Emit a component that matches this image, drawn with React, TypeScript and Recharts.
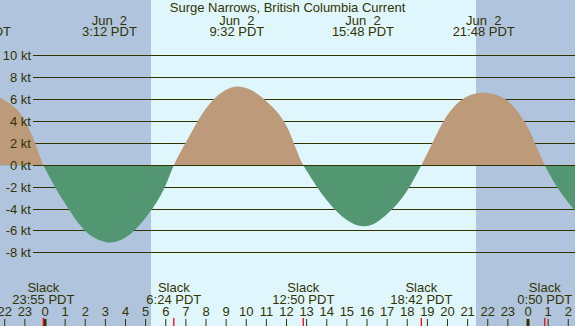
import React from "react";
import {
  ComposedChart,
  Area,
  XAxis,
  YAxis,
  CartesianGrid,
  ReferenceLine,
  Customized,
} from "recharts";

const title = "Surge Narrows, British Columbia Current";

// hours since midnight Jun 2 (PDT) and current speed in knots (+ flood / - ebb)
const times = [
  -2.5, -2, -1, -0.5, -0.083, 0, 0.5, 1, 2, 3, 3.2, 4, 5, 6, 6.4, 7, 8, 9, 9.533, 10, 11, 12,
  12.833, 13, 14, 15, 15.8, 16, 17, 18, 18.7, 19, 20, 21, 21.8, 22, 23, 24, 24.833, 25, 26, 26.5,
];
const speeds = [
  6.4, 5.95, 4.1, 2.1, 0, -0.3, -2.0, -3.5, -6.0, -7.0, -7.06, -6.6, -4.8, -1.8, 0, 2.1, 5.2, 6.9,
  7.2, 7.05, 5.85, 3.6, 0, -0.5, -3.2, -5.0, -5.57, -5.55, -4.45, -2.3, 0, 1.1, 4.6, 6.3, 6.64, 6.6,
  5.85, 3.4, 0, -0.6, -3.4, -4.5,
];

const slackTimes = [-0.083, 6.4, 12.833, 18.7, 24.833];
const slackLabels = ["23:55 PDT", "6:24 PDT", "12:50 PDT", "18:42 PDT", "0:50 PDT"];

const maxTimes = [-3.23, 3.2, 9.533, 15.8, 21.8];
const maxDates = ["Jun  1", "Jun  2", "Jun  2", "Jun  2", "Jun  2"];
const maxLabels = ["20:46 PDT", "3:12 PDT", "9:32 PDT", "15:48 PDT", "21:48 PDT"];

const hourTicks = [
  -2, -1, 0, 1, 2, 3, 4, 5, 6, 7, 8, 9, 10, 11, 12, 13, 14, 15, 16, 17, 18, 19, 20, 21, 22, 23, 24,
  25, 26,
];
const speedTicks = [-8, -6, -4, -2, 0, 2, 4, 6, 8, 10];

const sunrise = 5.27;
const sunset = 21.42;
const startHour = -2.236;
const endHour = 26.335;

const ink = "#333300";
const night = "#b0c4de";
const day = "#dff6fd";
const flood = "#bc9a7a";
const ebb = "#529672";
const font = "'Liberation Sans', Arial, sans-serif";

const data = times.map((t, i) => ({ t, v: speeds[i] }));
const vMax = Math.max(...speeds);
const vMin = Math.min(...speeds);
const splitAt = vMax / (vMax - vMin);

const HourTick = ({ x, payload }: any) => {
  const h = ((payload.value % 24) + 24) % 24;
  return (
    <g>
      <text x={x} y={316} textAnchor="middle" fill={ink} fontSize={13} fontFamily={font}>
        {h}
      </text>
      <line x1={x} x2={x} y1={319} y2={326} stroke={ink} strokeWidth={h === 0 ? 3 : 1} />
    </g>
  );
};

const SlackTick = ({ x, payload }: any) => {
  const i = slackTimes.indexOf(payload.value);
  return (
    <g fill={ink} fontSize={13} fontFamily={font}>
      <text x={x} y={292} textAnchor="middle">Slack</text>
      <text x={x} y={304} textAnchor="middle">{slackLabels[i]}</text>
      <line x1={x} x2={x} y1={318} y2={326} stroke="#ff0000" strokeWidth={1.3} />
    </g>
  );
};

const MaxTick = ({ x, payload }: any) => {
  const i = maxTimes.indexOf(payload.value);
  return (
    <g fill={ink} fontSize={13} fontFamily={font}>
      <text x={x} y={24.5} textAnchor="middle" style={{ whiteSpace: "pre" }}>
        {maxDates[i]}
      </text>
      <text x={x} y={36} textAnchor="middle">{maxLabels[i]}</text>
    </g>
  );
};

const SpeedTick = ({ y, payload }: any) => (
  <text x={31} y={y + 4.5} textAnchor="end" fill={ink} fontSize={13} fontFamily={font}>
    {`${payload.value} kt`}
  </text>
);

const Title = () => (
  <text x={287.5} y={12.3} textAnchor="middle" fill={ink} fontSize={13} fontFamily={font}>
    {title}
  </text>
);

export default function App() {
  return (
    <div style={{ position: "absolute", left: 0, top: 0, width: 575, height: 326 }}>
      {/* axes get real sizes, negative margins give the plot the whole picture */}
      <ComposedChart
        width={575}
        height={326}
        data={data}
        margin={{ top: -30, right: 0, bottom: -60, left: -30 }}
      >
        <defs>
          <linearGradient id="tideFill" x1="0" y1="0" x2="0" y2="1">
            <stop offset={splitAt} stopColor={flood} />
            <stop offset={splitAt} stopColor={ebb} />
          </linearGradient>
        </defs>
        {/* night / day / night stripes, placed at sunrise and sunset through the x scale */}
        <CartesianGrid
          horizontal={false}
          verticalValues={[startHour, sunrise, sunset]}
          verticalFill={[night, day, night]}
          fillOpacity={1}
          stroke="none"
        />
        <CartesianGrid
          x={33}
          width={542}
          vertical={false}
          horizontalValues={speedTicks}
          stroke={ink}
          strokeWidth={1}
          shapeRendering="crispEdges"
        />
        <XAxis
          dataKey="t"
          type="number"
          domain={[startHour, endHour]}
          allowDataOverflow
          ticks={hourTicks}
          interval={0}
          height={30}
          axisLine={false}
          tickLine={false}
          tick={<HourTick />}
        />
        <XAxis
          xAxisId="slack"
          dataKey="t"
          type="number"
          domain={[startHour, endHour]}
          allowDataOverflow
          ticks={slackTimes}
          interval={0}
          height={30}
          axisLine={false}
          tickLine={false}
          tick={<SlackTick />}
        />
        <XAxis
          xAxisId="max"
          dataKey="t"
          orientation="top"
          type="number"
          domain={[startHour, endHour]}
          allowDataOverflow
          ticks={maxTimes}
          interval={0}
          height={30}
          axisLine={false}
          tickLine={false}
          tick={<MaxTick />}
        />
        <YAxis
          type="number"
          domain={[-14.68, 15.1]}
          allowDataOverflow
          ticks={speedTicks}
          interval={0}
          width={30}
          axisLine={false}
          tickLine={false}
          tick={<SpeedTick />}
        />
        <Area
          dataKey="v"
          type="monotone"
          baseValue={0}
          stroke="none"
          fill="url(#tideFill)"
          fillOpacity={1}
          dot={false}
          activeDot={false}
          isAnimationActive={false}
        />
        <ReferenceLine
          segment={[
            { x: -0.6, y: 0 },
            { x: endHour, y: 0 },
          ]}
          stroke={ink}
          strokeWidth={1}
          shapeRendering="crispEdges"
        />
        <Customized component={Title} />
      </ComposedChart>
    </div>
  );
}
